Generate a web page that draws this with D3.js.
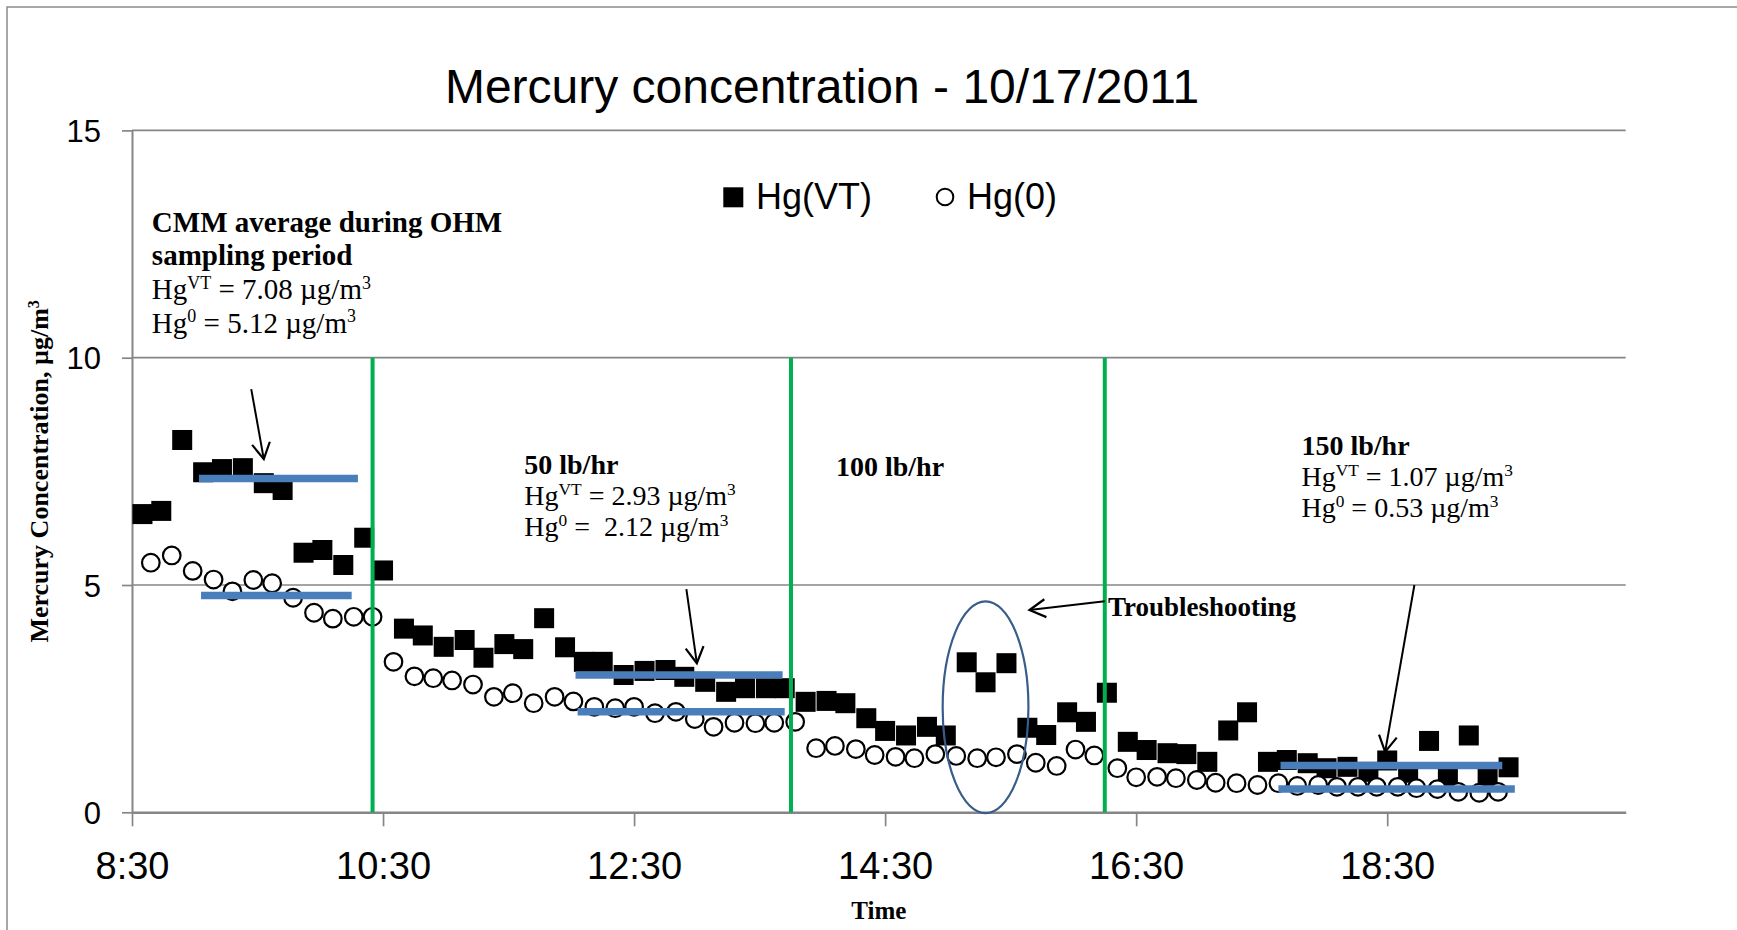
<!DOCTYPE html>
<html>
<head>
<meta charset="utf-8">
<script src="https://cdn.jsdelivr.net/npm/d3@7/dist/d3.min.js"></script>
<style>
  body { margin: 0; background: #fff; }
  svg { display: block; }
  text { white-space: pre; }
</style>
</head>
<body>
<svg id="chart" width="1737" height="930"></svg>
<script>
// Hg(VT) readings (filled squares)
const hgVtTimes = ["8:35","8:44","8:54","9:04","9:13","9:23","9:33","9:42","9:52","10:01",
  "10:11","10:21","10:30","10:40","10:49","10:59","11:09","11:18","11:28","11:37",
  "11:47","11:57","12:06","12:15","12:25","12:35","12:45","12:54","13:04","13:14",
  "13:23","13:33","13:42","13:52","14:02","14:11","14:21","14:30","14:40","14:50",
  "14:59","15:09","15:18","15:28","15:38","15:47","15:57","16:06","16:16","16:26",
  "16:35","16:45","16:54","17:04","17:14","17:23","17:33","17:42","17:52","18:01",
  "18:11","18:21","18:30","18:40","18:50","18:59","19:09","19:18","19:28"];
const hgVtValues = [6.56,6.63,8.19,7.48,7.55,7.57,7.24,7.09,5.71,5.77,
  5.44,6.04,5.32,4.04,3.89,3.64,3.79,3.40,3.70,3.59,
  4.27,3.63,3.31,3.31,3.02,3.11,3.13,2.98,2.87,2.65,
  2.73,2.73,2.73,2.43,2.45,2.40,2.07,1.79,1.69,1.88,
  1.69,3.30,2.86,3.28,1.86,1.70,2.20,1.99,2.63,1.55,
  1.37,1.30,1.28,1.11,1.80,2.20,1.11,1.15,1.08,0.97,
  1.00,0.89,1.14,0.87,1.57,0.80,1.69,0.80,0.99];

// Hg(0) readings (open circles)
const hg0Times = ["8:39","8:49","8:59","9:09","9:18","9:28","9:37","9:47","9:57","10:06",
  "10:16","10:25","10:35","10:45","10:54","11:03","11:13","11:23","11:32","11:42",
  "11:52","12:01","12:11","12:21","12:30","12:40","12:50","12:59","13:08","13:18",
  "13:28","13:37","13:47","13:57","14:06","14:16","14:25","14:35","14:44","14:54",
  "15:04","15:14","15:23","15:33","15:42","15:52","16:01","16:10","16:21","16:30",
  "16:40","16:49","16:59","17:08","17:18","17:28","17:38","17:47","17:57","18:06",
  "18:16","18:25","18:35","18:44","18:54","19:04","19:14","19:23"];
const hg0Values = [5.49,5.65,5.31,5.12,4.86,5.11,5.04,4.72,4.39,4.26,
  4.30,4.30,3.31,2.99,2.95,2.90,2.81,2.54,2.62,2.40,
  2.54,2.44,2.32,2.29,2.32,2.18,2.21,2.05,1.88,1.97,
  1.96,1.97,1.99,1.41,1.46,1.39,1.26,1.22,1.19,1.28,
  1.24,1.19,1.21,1.28,1.09,1.02,1.38,1.25,0.97,0.77,
  0.78,0.75,0.71,0.65,0.64,0.60,0.64,0.58,0.60,0.56,
  0.56,0.56,0.56,0.53,0.51,0.45,0.43,0.45];

const yTicks = [0, 5, 10, 15];
const xTickLabels = ["8:30","10:30","12:30","14:30","16:30","18:30"];
const xDomain = ["8:30","20:24"];

// feed-rate changes (green lines)
const phaseChanges = ["10:25","13:45","16:15"];

// averaging periods (blue bars): start, end, drawn level
const avgVtStart = ["9:02","12:02","17:39"];
const avgVtEnd   = ["10:18","13:41","19:25"];
const avgVtLevel = [7.34, 3.02, 1.03];
const avg0Start  = ["9:03","12:03","17:38"];
const avg0End    = ["10:15","13:42","19:31"];
const avg0Level  = [4.77, 2.21, 0.51];

// annotation arrows: [from time, from value, to time, to value]
const arrows = [
  ["9:27", 9.31, "9:33", 7.77],
  ["12:55", 4.91, "13:00", 3.28],
  ["16:15", 4.64, "15:39", 4.45],
  ["18:43", 5.00, "18:29", 1.33]
];

// troubleshooting ellipse: centre time, centre value, half width (min), half height
const troubleEllipse = ["15:18", 2.31, 20.5, 2.33];

// text notes: anchor time, anchor value, font size, line step, lines ("*" = bold)
const notes = [
  ["8:39:30", 12.77, 29, 33.6, ["*CMM average during OHM", "*sampling period",
    "Hg^{VT} = 7.08 µg/m^{3}", "Hg^{0} = 5.12 µg/m^{3}"]],
  ["11:37:30", 7.435, 28, 30.7, ["*50 lb/hr", "Hg^{VT} = 2.93 µg/m^{3}", "Hg^{0} =  2.12 µg/m^{3}"]],
  ["14:06:30", 7.40, 28, 30.7, ["*100 lb/hr"]],
  ["17:49", 7.86, 28, 31, ["*150 lb/hr", "Hg^{VT} = 1.07 µg/m^{3}", "Hg^{0} = 0.53 µg/m^{3}"]],
  ["16:16:30", 4.32, 27, 30, ["*Troubleshooting"]]
];

const parseTime = s => {
  const p = s.split(":").map(Number);
  return p[0] + p[1] / 60 + (p[2] || 0) / 3600;
};

const svg = d3.select("#chart");
const serif = "'Liberation Serif', 'Times New Roman', serif";
const sans = "'Liberation Sans', Arial, sans-serif";
const gridColor = "#868686";

svg.append("rect").attr("width", 1737).attr("height", 930).attr("fill", "#fff");
// chart frame (runs off the right/bottom edge in the reference)
svg.append("rect")
  .attr("x", 7).attr("y", 7).attr("width", 1900).attr("height", 1100)
  .attr("fill", "none").attr("stroke", "#8a8a8a").attr("stroke-width", 1.5);

let x = d3.scaleLinear()
  .domain(xDomain.map(parseTime))
  .range([132, 1625.7]);
let y = d3.scaleLinear()
  .domain([0, 15])
  .range([812.3, 130.4]);

// horizontal gridlines
svg.append("g").selectAll("line")
  .data(yTicks.filter(d => d > 0))
  .enter().append("line")
  .attr("x1", x.range()[0]).attr("x2", x.range()[1])
  .attr("y1", d => y(d)).attr("y2", d => y(d))
  .attr("stroke", gridColor).attr("stroke-width", 1.7);

// y axis
let gY = svg.append("g").attr("transform", "translate(" + x.range()[0] + ",0)");
gY.call(d3.axisLeft(y).tickValues(yTicks).tickSize(10).tickSizeOuter(0).tickPadding(21));
gY.select(".domain").attr("stroke", gridColor).attr("stroke-width", 2);
gY.selectAll(".tick line").attr("stroke", gridColor).attr("stroke-width", 1.7);
gY.selectAll(".tick text")
  .style("font-family", sans).style("font-size", "31px").attr("fill", "#000")
  .attr("dy", "0.36em");

// x axis
let gX = svg.append("g").attr("transform", "translate(0," + y(0) + ")");
gX.call(d3.axisBottom(x)
  .tickValues(xTickLabels.map(parseTime))
  .tickFormat((d, i) => xTickLabels[i])
  .tickSize(14).tickSizeOuter(0));
gX.select(".domain").attr("stroke", gridColor).attr("stroke-width", 2.6);
gX.selectAll(".tick line").attr("stroke", gridColor).attr("stroke-width", 1.7);
gX.selectAll(".tick text")
  .style("font-family", sans).style("font-size", "38px").attr("fill", "#000")
  .attr("dy", null).attr("y", 66.7);

// Hg(VT) squares
svg.append("g").selectAll("rect")
  .data(hgVtTimes.map((t, i) => [parseTime(t), hgVtValues[i]]))
  .enter().append("rect")
  .attr("x", d => x(d[0]) - 10).attr("y", d => y(d[1]) - 10)
  .attr("width", 20).attr("height", 20)
  .attr("fill", "#000");

// Hg(0) circles
svg.append("g").selectAll("circle")
  .data(hg0Times.map((t, i) => [parseTime(t), hg0Values[i]]))
  .enter().append("circle")
  .attr("cx", d => x(d[0])).attr("cy", d => y(d[1]))
  .attr("r", 8.8)
  .attr("fill", "#fff").attr("stroke", "#000").attr("stroke-width", 2.2);

// feed-rate change lines
svg.append("g").selectAll("line")
  .data(phaseChanges.map(parseTime))
  .enter().append("line")
  .attr("x1", d => x(d)).attr("x2", d => x(d))
  .attr("y1", y(10)).attr("y2", y(0))
  .attr("stroke", "#00b050").attr("stroke-width", 4);

// average bars
function drawAverages(starts, ends, levels) {
  svg.append("g").selectAll("line")
    .data(levels.map((v, i) => [parseTime(starts[i]), parseTime(ends[i]), v]))
    .enter().append("line")
    .attr("x1", d => x(d[0])).attr("x2", d => x(d[1]))
    .attr("y1", d => y(d[2])).attr("y2", d => y(d[2]))
    .attr("stroke", "#4a7ebb").attr("stroke-width", 7.5);
}
drawAverages(avgVtStart, avgVtEnd, avgVtLevel);
drawAverages(avg0Start, avg0End, avg0Level);

// troubleshooting ellipse
let et = parseTime(troubleEllipse[0]);
svg.append("ellipse")
  .attr("cx", x(et)).attr("cy", y(troubleEllipse[1]))
  .attr("rx", x(et + troubleEllipse[2] / 60) - x(et))
  .attr("ry", y(0) - y(troubleEllipse[3]))
  .attr("fill", "none").attr("stroke", "#385d8a").attr("stroke-width", 2.2);

// arrows
svg.append("defs").append("marker")
  .attr("id", "openArrow")
  .attr("markerUnits", "userSpaceOnUse")
  .attr("markerWidth", 22).attr("markerHeight", 24)
  .attr("refX", 18).attr("refY", 11)
  .attr("orient", "auto")
  .append("path")
  .attr("d", "M2,2 L18,11 L2,20")
  .attr("fill", "none").attr("stroke", "#000").attr("stroke-width", 2.2);

svg.append("g").selectAll("line")
  .data(arrows)
  .enter().append("line")
  .attr("x1", d => x(parseTime(d[0]))).attr("y1", d => y(d[1]))
  .attr("x2", d => x(parseTime(d[2]))).attr("y2", d => y(d[3]))
  .attr("stroke", "#000").attr("stroke-width", 2)
  .attr("marker-end", "url(#openArrow)");

// rich text helper: "*" prefix = bold, ^{..} = superscript
function richLine(g, str, px, py, size) {
  let bold = str.startsWith("*");
  if (bold) str = str.slice(1);
  let t = g.append("text")
    .attr("x", px).attr("y", py)
    .style("font-family", serif).style("font-size", size + "px")
    .style("font-weight", bold ? "bold" : "normal")
    .attr("fill", "#000");
  let raised = false;
  str.split(/(\^\{[^}]*\})/).forEach(p => {
    if (!p) return;
    if (p.startsWith("^{")) {
      t.append("tspan").attr("dy", raised ? 0 : -size * 0.36)
        .style("font-size", (size * 0.62) + "px").text(p.slice(2, -1));
      raised = true;
    } else {
      t.append("tspan").attr("dy", raised ? size * 0.36 : 0).text(p);
      raised = false;
    }
  });
  return t;
}

let gNotes = svg.append("g");
notes.forEach(n => {
  let px = x(parseTime(n[0])), py = y(n[1]);
  n[4].forEach((line, i) => richLine(gNotes, line, px, py + i * n[3], n[2]));
});

// axis titles
richLine(svg, "*Mercury Concentration, µg/m^{3}", 0, 0, 26)
  .attr("x", null).attr("y", null)
  .attr("text-anchor", "middle")
  .attr("transform", "translate(48," + ((y(0) + y(15)) / 2) + ") rotate(-90)");
svg.append("text")
  .attr("x", (x.range()[0] + x.range()[1]) / 2).attr("y", 919)
  .attr("text-anchor", "middle")
  .style("font-family", serif).style("font-size", "25px").style("font-weight", "bold")
  .text("Time");

// title
svg.append("text")
  .attr("x", 822).attr("y", 103)
  .attr("text-anchor", "middle")
  .style("font-family", sans).style("font-size", "48px")
  .text("Mercury concentration - 10/17/2011");

// legend
let gLeg = svg.append("g").style("font-family", sans).style("font-size", "36px");
gLeg.append("rect").attr("x", 723.3).attr("y", 187.3).attr("width", 20).attr("height", 20).attr("fill", "#000");
gLeg.append("text").attr("x", 756).attr("y", 208.5).text("Hg(VT)");
gLeg.append("circle").attr("cx", 945).attr("cy", 197).attr("r", 8.3)
  .attr("fill", "#fff").attr("stroke", "#000").attr("stroke-width", 2);
gLeg.append("text").attr("x", 967).attr("y", 208.5).text("Hg(0)");
</script>
</body>
</html>
